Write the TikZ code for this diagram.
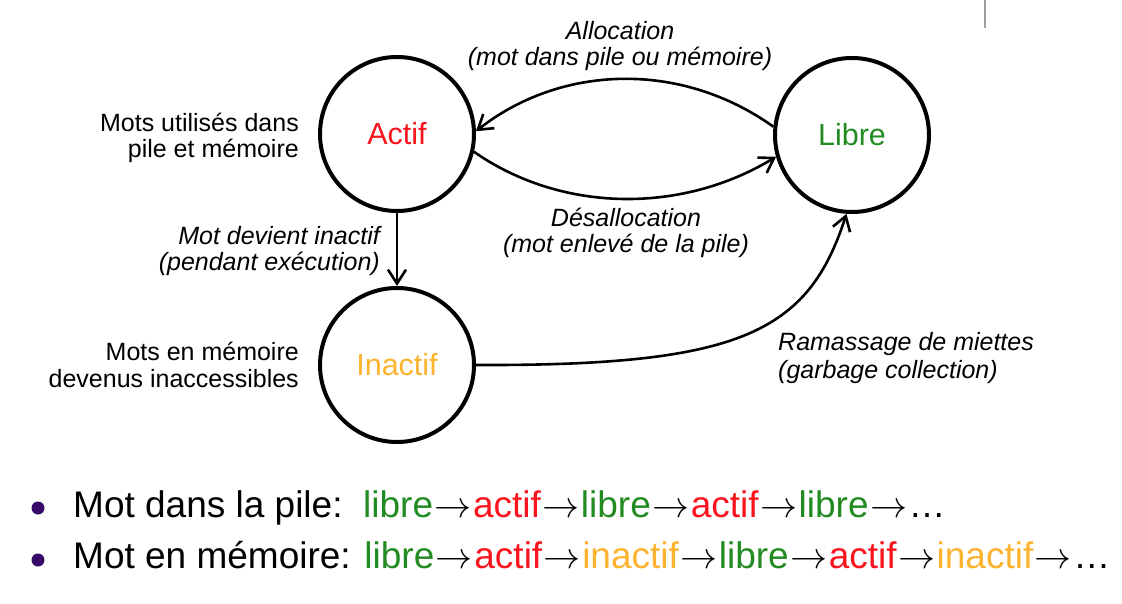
\documentclass[tikz,border=0pt]{standalone}
\usepackage{fontspec}
\usepackage{graphicx}
\setmainfont{Liberation Sans}
\usetikzlibrary{arrows.meta}
\definecolor{cActif}{RGB}{250,20,30}
\definecolor{cLibre}{RGB}{34,139,34}
\definecolor{cInactif}{RGB}{253,179,47}
\definecolor{cBullet}{RGB}{55,10,105}
\newcommand\Lr[1]{\vtop{\lineskiplimit=-100pt\halign{\hfil##\cr#1\crcr}}}
\newcommand\Lc[1]{\vtop{\lineskiplimit=-100pt\halign{\hfil##\hfil\cr#1\crcr}}}
\newcommand\Ll[1]{\vtop{\lineskiplimit=-100pt\halign{##\hfil\cr#1\crcr}}}
\newcommand\Arr{\kern1.5pt{\fontsize{10}{12}\selectfont\scalebox{3.7}{$\rightarrow$}}\kern1.5pt}
\begin{document}
\begin{tikzpicture}[x=1pt,y=-1pt,
  state/.style={circle,draw,line width=4pt,minimum size=154pt,inner sep=0pt,
    font=\fontsize{30.5}{34}\selectfont},
  trans/.style={line width=2.6pt,-{Straight Barb[length=14pt,width=18pt]}},
  lbl/.style={inner sep=0pt,font=\fontsize{25}{26}\selectfont},
  ilbl/.style={inner sep=0pt,font=\fontsize{25}{25.5}\selectfont\itshape},
  bigline/.style={inner sep=0pt,anchor=base west,font=\fontsize{37}{40}\selectfont},
  bullet/.style={circle,fill=cBullet,inner sep=0pt,minimum size=13pt}]
\fill[white] (0,0) rectangle (1122,604);
\useasboundingbox (0,0) rectangle (1122,604);
\draw[gray!75,line width=2pt] (985,0) -- (985,28);

\node[state,text=cActif] (actif) at (397,134) {Actif};
\node[state,text=cLibre] (libre) at (852,135) {Libre};
\node[state,text=cInactif] (inactif) at (397,365) {Inactif};

\draw[trans] (libre.174) .. controls (680,60) and (560,65) .. (actif.2);
\draw[trans] (actif.-13) .. controls (560,212) and (680,215) .. (libre.196);
\draw[trans] (actif.south) -- (inactif.north);
\draw[trans] (inactif.east) .. controls (740,366) and (808,333) .. (libre.266);

\node[ilbl,anchor=base] (lalloc) at (620,40) {\Lc{Allocation\cr (mot dans pile ou mémoire)}};
\node[ilbl,anchor=base] (ldesalloc) at (626,227) {\Lc{Désallocation\cr (mot enlevé de la pile)}};
\node[ilbl,anchor=base east,font=\fontsize{25}{26}\selectfont\itshape] (linact) at (380,244) {\Lr{Mot devient inactif\cr (pendant exécution)}};
\node[ilbl,anchor=base west,font=\fontsize{25}{28}\selectfont\itshape] (lgc) at (778,350) {\Ll{Ramassage de miettes\cr (garbage collection)}};
\node[lbl,anchor=base east] (lactif) at (299,132) {\Lr{Mots utilisés dans\cr pile et mémoire}};
\node[lbl,anchor=base east,font=\fontsize{25}{27}\selectfont] (linactif) at (299,360) {\Lr{Mots en mémoire\cr devenus inaccessibles}};

\node[bullet] (b1) at (38,508) {};
\node[bullet] (b2) at (38,560) {};
\node[bigline] (t1) at (73,517) {Mot dans la pile:\ \ \textcolor{cLibre}{libre}\Arr\textcolor{cActif}{actif}\Arr\textcolor{cLibre}{libre}\Arr\textcolor{cActif}{actif}\Arr\textcolor{cLibre}{libre}\Arr…};
\node[bigline] (t2) at (73,568) {Mot en mémoire: \textcolor{cLibre}{libre}\Arr\textcolor{cActif}{actif}\Arr\textcolor{cInactif}{inactif}\Arr\textcolor{cLibre}{libre}\Arr\textcolor{cActif}{actif}\Arr\textcolor{cInactif}{inactif}\Arr…};
\end{tikzpicture}
\end{document}
